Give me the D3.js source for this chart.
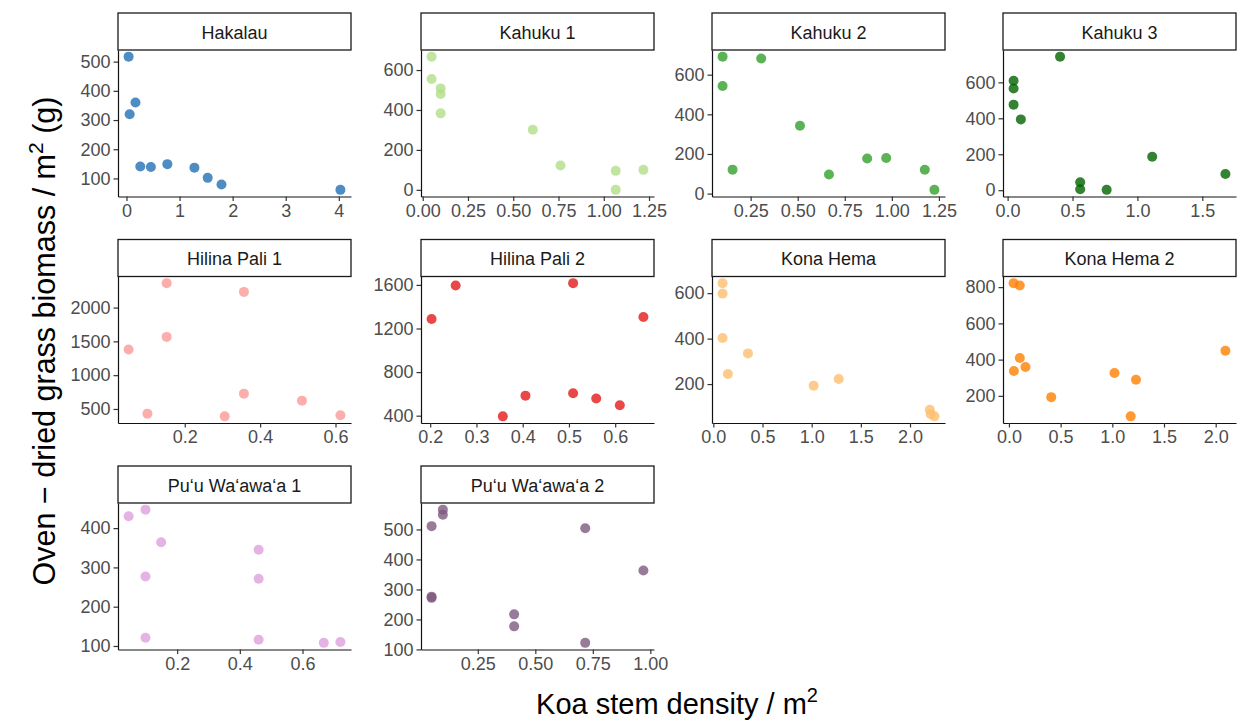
<!DOCTYPE html>
<html>
<head>
<meta charset="utf-8">
<script src="https://cdn.jsdelivr.net/npm/d3@7"></script>
<style>
  html, body { margin: 0; padding: 0; background: #fff; }
  svg { display: block; font-family: "Liberation Sans", Arial, Helvetica, sans-serif; }
</style>
</head>
<body>
<svg id="chart" width="1238" height="721"></svg>
<script>
// Koa stem density (stems / m²) and oven-dried grass biomass (g / m²) by site
const siteNames = [
  "Hakalau", "Kahuku 1", "Kahuku 2", "Kahuku 3",
  "Hilina Pali 1", "Hilina Pali 2", "Kona Hema", "Kona Hema 2",
  "Pu‘u Wa‘awa‘a 1", "Pu‘u Wa‘awa‘a 2"
];

const hakalauDensity = [0.04, 0.17, 0.06, 0.26, 0.46, 0.77, 1.28, 1.53, 1.79, 4.03];
const hakalauBiomass = [517, 360, 320, 141, 139, 149, 137, 102, 79, 61];

const kahuku1Density = [0.049, 0.049, 0.099, 0.099, 0.099, 0.608, 0.761, 1.066, 1.066, 1.219];
const kahuku1Biomass = [667, 555, 508, 480, 383, 301, 122, 95, 0, 100];

const kahuku2Density = [0.101, 0.101, 0.306, 0.154, 0.512, 0.666, 0.869, 0.970, 1.175, 1.226];
const kahuku2Biomass = [691, 543, 682, 121, 342, 96, 177, 180, 120, 19];

const kahuku3Density = [0.046, 0.046, 0.046, 0.102, 0.404, 0.559, 0.559, 0.763, 1.114, 1.678];
const kahuku3Biomass = [609, 566, 476, 394, 743, 44, 5, 2, 186, 90];

const hilinaPali1Density = [0.152, 0.357, 0.152, 0.051, 0.101, 0.306, 0.357, 0.511, 0.613];
const hilinaPali1Biomass = [2361, 2232, 1566, 1379, 431, 391, 727, 623, 406];

const hilinaPali2Density = [0.203, 0.255, 0.357, 0.406, 0.509, 0.509, 0.559, 0.610, 0.661];
const hilinaPali2Biomass = [1287, 1594, 394, 584, 1616, 606, 557, 495, 1306];

const konaHemaDensity = [0.094, 0.094, 0.094, 0.148, 0.352, 1.020, 1.275, 2.201, 2.211, 2.248];
const konaHemaBiomass = [644, 598, 403, 244, 335, 193, 222, 87, 67, 58];

const konaHema2Density = [0.045, 0.105, 0.105, 0.160, 0.048, 0.409, 1.021, 1.178, 1.229, 2.094];
const konaHema2Biomass = [822, 809, 409, 359, 337, 193, 326, 87, 289, 449];

const puuWaawaa1Density = [0.045, 0.099, 0.149, 0.099, 0.099, 0.460, 0.460, 0.460, 0.668, 0.721];
const puuWaawaa1Biomass = [430, 447, 364, 277, 121, 345, 271, 116, 108, 110];

const puuWaawaa2Density = [0.049, 0.049, 0.049, 0.098, 0.098, 0.408, 0.408, 0.717, 0.717, 0.970];
const puuWaawaa2Biomass = [511, 276, 272, 566, 549, 217, 177, 504, 122, 363];

const siteColors = [
  "#2171b5", "#b2df8a", "#33a02c", "#006400",
  "#fb9a99", "#e31a1c", "#fdbf6f", "#ff7f00",
  "#dda0dd", "#7e5a7e"
];

// Axis tick labels for each panel
const xTickLabels = [
  ["0", "1", "2", "3", "4"],
  ["0.00", "0.25", "0.50", "0.75", "1.00", "1.25"],
  ["0.25", "0.50", "0.75", "1.00", "1.25"],
  ["0.0", "0.5", "1.0", "1.5"],
  ["0.2", "0.4", "0.6"],
  ["0.2", "0.3", "0.4", "0.5", "0.6"],
  ["0.0", "0.5", "1.0", "1.5", "2.0"],
  ["0.0", "0.5", "1.0", "1.5", "2.0"],
  ["0.2", "0.4", "0.6"],
  ["0.25", "0.50", "0.75", "1.00"]
];
const yTickLabels = [
  ["100", "200", "300", "400", "500"],
  ["0", "200", "400", "600"],
  ["0", "200", "400", "600"],
  ["0", "200", "400", "600"],
  ["500", "1000", "1500", "2000"],
  ["400", "800", "1200", "1600"],
  ["200", "400", "600"],
  ["200", "400", "600", "800"],
  ["100", "200", "300", "400"],
  ["100", "200", "300", "400", "500"]
];

const densities = [hakalauDensity, kahuku1Density, kahuku2Density, kahuku3Density,
  hilinaPali1Density, hilinaPali2Density, konaHemaDensity, konaHema2Density,
  puuWaawaa1Density, puuWaawaa2Density];
const biomasses = [hakalauBiomass, kahuku1Biomass, kahuku2Biomass, kahuku3Biomass,
  hilinaPali1Biomass, hilinaPali2Biomass, konaHemaBiomass, konaHema2Biomass,
  puuWaawaa1Biomass, puuWaawaa2Biomass];

// ---- layout (facet grid, 4 columns) ----
const colLeft = [118, 421, 712, 1003];
const panelW = 233;
const stripH = 37;
const rowStripTop = [13, 239.5, 466];
const panelH = 146.5;
const tickFont = "18px";

const svg = d3.select("#chart");
svg.append("rect").attr("width", 1238).attr("height", 721).attr("fill", "#fff");

// ggplot-style 5% expansion of a continuous range
function expanded(values) {
  const [lo, hi] = d3.extent(values);
  const pad = (hi - lo) * 0.05;
  return [lo - pad, hi + pad];
}

siteNames.forEach((name, i) => {
  const row = Math.floor(i / 4), col = i % 4;
  const x0 = colLeft[col], y0 = rowStripTop[row] + stripH;
  const g = svg.append("g").attr("transform", `translate(${x0},${y0})`);

  const xs = densities[i], ys = biomasses[i];
  const x = d3.scaleLinear().domain(expanded(xs)).range([0, panelW]);
  const y = d3.scaleLinear().domain(expanded(ys)).range([panelH, 0]);

  // points
  g.append("g").selectAll("circle")
    .data(xs.map((d, k) => [d, ys[k]]))
    .join("circle")
    .attr("cx", d => x(d[0]))
    .attr("cy", d => y(d[1]))
    .attr("r", 5)
    .attr("fill", siteColors[i])
    .attr("fill-opacity", 0.8);

  // axes
  const xAxis = d3.axisBottom(x)
    .tickValues(xTickLabels[i].map(Number))
    .tickFormat((d, k) => xTickLabels[i][k])
    .tickSizeInner(4.5).tickSizeOuter(0).tickPadding(3);
  const yAxis = d3.axisLeft(y)
    .tickValues(yTickLabels[i].map(Number))
    .tickFormat((d, k) => yTickLabels[i][k])
    .tickSizeInner(4.5).tickSizeOuter(0).tickPadding(3);

  const gx = g.append("g").attr("transform", `translate(0,${panelH})`).call(xAxis);
  const gy = g.append("g").call(yAxis);
  [gx, gy].forEach(a => {
    a.select(".domain").attr("stroke", "#111").attr("stroke-width", 1.2);
    a.selectAll(".tick line").attr("stroke", "#333").attr("stroke-width", 1.2);
    a.selectAll(".tick text")
      .attr("fill", "#4d4d4d")
      .style("font-size", tickFont)
      .style("font-family", "'Liberation Sans', Arial, sans-serif");
  });

  // strip
  g.append("rect")
    .attr("x", 0).attr("y", -stripH)
    .attr("width", panelW).attr("height", stripH)
    .attr("fill", "#fff").attr("stroke", "#1a1a1a").attr("stroke-width", 1.3);
  g.append("text")
    .attr("x", panelW / 2).attr("y", -stripH / 2 + 1)
    .attr("text-anchor", "middle").attr("dominant-baseline", "central")
    .attr("fill", "#1a1a1a")
    .style("font-size", tickFont)
    .text(name);
});

// axis titles
const xTitle = svg.append("text")
  .attr("x", 677).attr("y", 714)
  .attr("text-anchor", "middle")
  .attr("fill", "#000")
  .style("font-size", "29px");
xTitle.append("tspan").text("Koa stem density / m");
xTitle.append("tspan").attr("dy", -12).style("font-size", "20px").text("2");

const yTitle = svg.append("text")
  .attr("transform", "translate(55,341) rotate(-90)")
  .attr("text-anchor", "middle")
  .attr("fill", "#000")
  .style("font-size", "30.5px");
yTitle.append("tspan").text("Oven \u2212 dried grass biomass / m");
yTitle.append("tspan").attr("dy", -12.5).style("font-size", "21px").text("2");
yTitle.append("tspan").attr("dy", 12.5).text(" (g)");
</script>
</body>
</html>
